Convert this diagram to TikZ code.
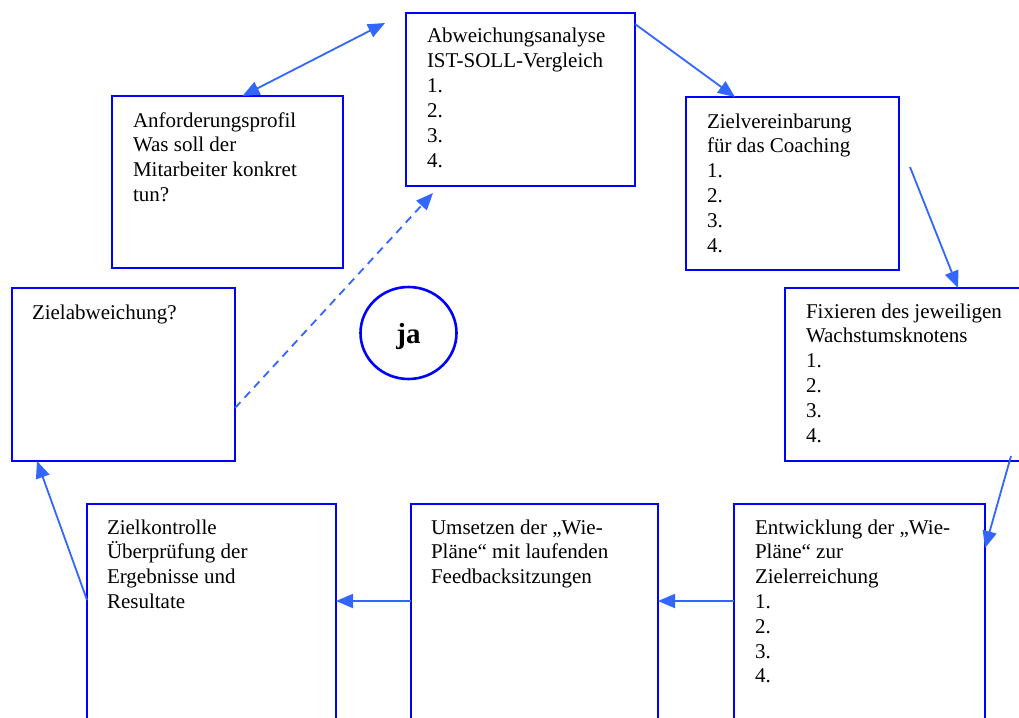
\documentclass[tikz,border=0pt]{standalone}
\usepackage{fontspec}
\setmainfont{Liberation Serif}
\usetikzlibrary{arrows.meta,shapes.geometric}
\definecolor{boxblue}{RGB}{0,0,255}
\definecolor{arrblue}{RGB}{51,102,255}
\newcommand\boxlines[1]{\begin{tabular}[t]{@{}l@{}}#1\end{tabular}}
\begin{document}
\begin{tikzpicture}[x=1pt,y=-1pt,
  box/.style={draw=boxblue, line width=2.6pt, rectangle, anchor=north west, inner sep=0pt, outer sep=0pt},
  txt/.style={anchor=base west, inner sep=0pt, outer sep=0pt, font=\fontsize{21}{24.8}\selectfont},
  conn/.style={draw=arrblue, line width=1.8pt, -{Triangle[length=17pt,width=14pt]}},
  dconn/.style={draw=arrblue, line width=1.8pt, {Triangle[length=17pt,width=14pt]}-{Triangle[length=17pt,width=14pt]}},
  dashconn/.style={conn, dash pattern=on 8pt off 6pt}]
\useasboundingbox (0,0) rectangle (1019,717);
\clip (0,0) rectangle (1019,717);
\fill[white] (0,0) rectangle (1019,717);
% boxes
\node[box, minimum width=231pt, minimum height=172pt] (anf) at (112,96) {};
\node[box, minimum width=229pt, minimum height=173pt] (abw) at (406,13) {};
\node[box, minimum width=213pt, minimum height=173pt] (ziel) at (686,97) {};
\node[box, minimum width=300pt, minimum height=173pt] (fix) at (785,288) {};
\node[box, minimum width=223pt, minimum height=173pt] (zab) at (12,288) {};
\node[box, minimum width=249pt, minimum height=300pt] (zk) at (87,504) {};
\node[box, minimum width=247pt, minimum height=300pt] (ums) at (411,504) {};
\node[box, minimum width=251pt, minimum height=300pt] (ent) at (734,504) {};
% texts
\node[txt] (anfT) at (133,127) {\boxlines{Anforderungsprofil\\Was soll der\\Mitarbeiter konkret\\tun?}};
\node[txt] (abwT) at (427,43) {\boxlines{Abweichungsanalyse\\IST-SOLL-Vergleich\\1.\\2.\\3.\\4.}};
\node[txt] (zielT) at (707,128) {\boxlines{Zielvereinbarung\\für das Coaching\\1.\\2.\\3.\\4.}};
\node[txt] (fixT) at (806,318) {\boxlines{Fixieren des jeweiligen\\Wachstumsknotens\\1.\\2.\\3.\\4.}};
\node[txt] (zabT) at (32,319) {\boxlines{Zielabweichung?}};
\node[txt] (zkT) at (107,534) {\boxlines{Zielkontrolle\\Überprüfung der\\Ergebnisse und\\Resultate}};
\node[txt] (umsT) at (431,534) {\boxlines{Umsetzen der „Wie-\\Pläne“ mit laufenden\\Feedbacksitzungen}};
\node[txt] (entT) at (755,534) {\boxlines{Entwicklung der „Wie-\\Pläne“ zur\\Zielerreichung\\1.\\2.\\3.\\4.}};
% ja circle
\node[ellipse, draw=boxblue, line width=2.6pt, minimum width=96pt, minimum height=92pt, inner sep=0pt] (ja) at (408.5,333) {};
\node[inner sep=0pt, anchor=base, font=\fontsize{29}{32}\bfseries\selectfont] (jaT) at (408.5,343) {ja};
% free coordinates
\coordinate (dtop) at (385,23);
\coordinate (zs) at (910,167);
\coordinate (fs) at (1011,456);
\coordinate (dashend) at (433,193);
% connectors
\draw[dconn] ([xshift=15pt]anf.north) -- (dtop);
\draw[conn] ([yshift=-11pt]abw.north east) -- ([xshift=49pt]ziel.north west);
\draw[conn] (zs) -- ([xshift=173pt]fix.north west);
\draw[conn] (fs) -- ([yshift=-44pt]ent.north east);
\draw[conn] ([yshift=-97pt]ent.north west) -- ([yshift=-97pt]ums.north east);
\draw[conn] ([yshift=-97pt]ums.north west) -- ([yshift=-97pt]zk.north east);
\draw[conn] ([yshift=-96pt]zk.north west) -- ([xshift=25pt]zab.south west);
\draw[dashconn] ([yshift=-120pt]zab.north east) -- (dashend);
\end{tikzpicture}
\end{document}
